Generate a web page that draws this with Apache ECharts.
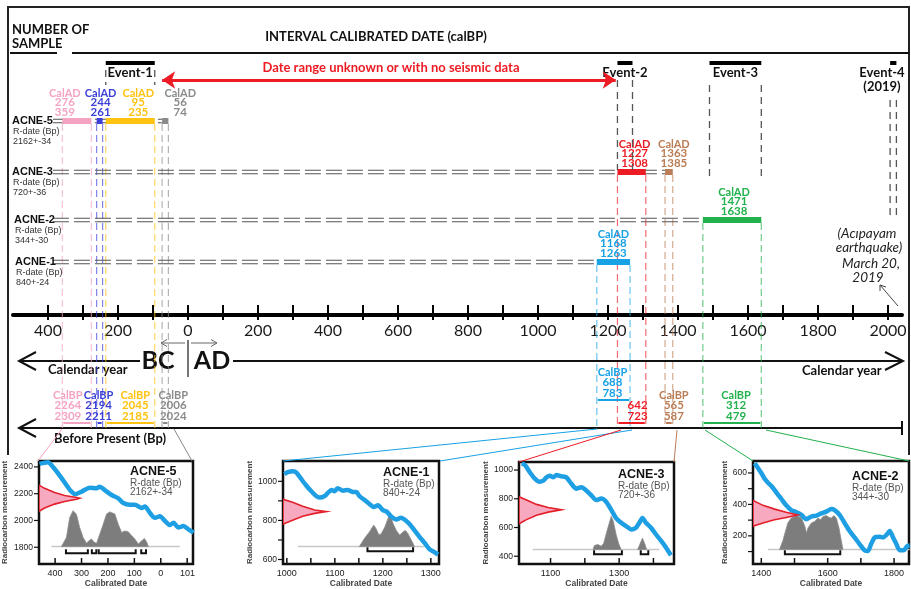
<!DOCTYPE html>
<html>
<head>
<meta charset="utf-8">
<script src="https://cdn.jsdelivr.net/npm/echarts@6/dist/echarts.min.js"></script>
<style>
  html, body { margin: 0; padding: 0; background: #fff; }
  #chart { width: 911px; height: 589px; }
</style>
</head>
<body>
<div id="chart"></div>
<script>
// ---- samples (rows of the timeline) ----
const sampleNames = ['ACNE-5', 'ACNE-3', 'ACNE-2', 'ACNE-1'];
const sampleRDates = ['2162+-34', '720+-36', '344+-30', '840+-24'];

// ---- calibrated ranges, calendar years (negative = BC) ----
const rangeSample = [0, 0, 0, 0, 1, 1, 2, 3];
const rangeFrom = [-359, -261, -235, -74, 1227, 1363, 1471, 1168];
const rangeTo = [-276, -244, -95, -56, 1308, 1385, 1638, 1263];
const calADLow = ['276', '244', '95', '56', '1227', '1363', '1471', '1168'];
const calADHigh = ['359', '261', '235', '74', '1308', '1385', '1638', '1263'];
const calBPLow = ['2264', '2194', '2045', '2006', '642', '565', '312', '688'];
const calBPHigh = ['2309', '2211', '2185', '2024', '723', '587', '479', '783'];
const calBPTitle = [1, 1, 1, 1, 0, 1, 1, 1];
const rangeColors = ['#f5a3c2', '#3b3fd6', '#ffc20e', '#8a8a8a', '#ed1c24', '#bb7d55', '#22b14c', '#17a2e6'];

// ---- events ----
const eventNames = ['Event-1', 'Event-2', 'Event-3', 'Event-4'];
const eventSub = ['', '', '', '(2019)'];
const eventFrom = [-235, 1227, 1490, 2006];
const eventTo = [-95, 1270, 1638, 2024];

// ---- main axis ----
const tickYears = [-400, -300, -200, -100, 0, 100, 200, 300, 400, 500, 600, 700, 800, 900, 1000, 1100, 1200, 1300, 1400, 1500, 1600, 1700, 1800, 1900, 2000];
const labelYears = [-400, -200, 0, 200, 400, 600, 800, 1000, 1200, 1400, 1600, 1800, 2000];

// ---- insets: calibration curves (year, radiocarbon age) ----
const acne5Curve = [[-459,2423],[-427,2435],[-408,2399],[-383,2337],[-357,2264],[-338,2215],[-323,2196],[-300,2215],[-269,2245],[-243,2240],[-231,2252],[-212,2227],[-186,2190],[-161,2166],[-142,2130],[-117,2117],[-98,2117],[-72,2093],[-60,2105],[-41,2056],[-22,2020],[-3,2032],[16,1996],[35,1966],[48,1983],[67,1947],[86,1959],[105,1934],[124,1910]];
const acne1Curve = [[995,1036],[1002,1047],[1013,1052],[1020,1045],[1030,1012],[1040,980],[1051,949],[1061,925],[1068,917],[1079,925],[1085,940],[1093,956],[1099,949],[1106,965],[1117,952],[1127,956],[1138,945],[1145,945],[1151,925],[1162,904],[1172,884],[1181,869],[1190,877],[1200,853],[1208,845],[1217,821],[1228,805],[1238,813],[1247,801],[1256,781],[1266,749],[1276,717],[1287,685],[1297,653],[1308,637],[1315,625]];
const acne3Curve = [[1016,1046],[1026,1033],[1040,983],[1055,938],[1067,919],[1079,926],[1088,949],[1098,960],[1108,949],[1117,965],[1132,956],[1146,949],[1161,904],[1175,870],[1190,881],[1204,858],[1219,824],[1233,791],[1248,802],[1262,780],[1277,723],[1291,666],[1306,633],[1320,610],[1335,587],[1349,599],[1359,633],[1368,666],[1378,633],[1393,599],[1407,553],[1422,508],[1436,463],[1451,407]];
const acne2Curve = [[1380,662],[1390,631],[1400,600],[1410,563],[1420,538],[1430,518],[1445,477],[1460,436],[1475,394],[1490,364],[1506,350],[1521,333],[1536,306],[1551,323],[1566,329],[1581,343],[1596,354],[1611,370],[1621,364],[1636,333],[1651,282],[1666,231],[1681,190],[1696,148],[1711,108],[1721,103],[1731,148],[1742,190],[1757,194],[1767,190],[1777,206],[1787,231],[1797,190],[1807,148],[1817,108],[1829,108],[1839,134],[1847,138]];

// measured radiocarbon age distributions (year-extent, age)
const acne5Bell = [[-461,2264],[-440,2240],[-402,2208],[-364,2186],[-319,2171],[-307,2166],[-319,2159],[-364,2142],[-402,2122],[-440,2093],[-461,2069]];
const acne1Bell = [[992,908],[1012,893],[1033,872],[1058,853],[1082,845],[1058,836],[1033,821],[1012,801],[992,781]];
const acne3Bell = [[1008,814],[1030,791],[1059,761],[1093,739],[1132,723],[1093,707],[1059,685],[1030,655],[1008,626]];
const acne2Bell = [[1375,425],[1405,394],[1440,370],[1475,350],[1510,333],[1475,317],[1440,302],[1405,282],[1375,262]];

// calibrated probability distributions
const acne5Density = [[[-376,1805],[-357,1873],[-345,2020],[-332,2073],[-319,2044],[-307,1947],[-294,1873],[-281,1829],[-272,1849],[-262,1861],[-252,1837],[-243,1829],[-231,1897],[-218,1971],[-205,2049],[-193,2064],[-174,2049],[-161,1971],[-148,1910],[-136,1922],[-123,1915],[-110,1886],[-98,1861],[-85,1824],[-72,1849],[-62,1866],[-53,1837],[-47,1805]]];
const acne1Density = [[[1151,666],[1162,709],[1172,741],[1181,776],[1186,757],[1192,725],[1197,733],[1204,765],[1210,805],[1215,837],[1221,786],[1228,749],[1235,725],[1242,741],[1247,749],[1252,733],[1259,701],[1266,666]]];
const acne3Density = [[[1224,447],[1228,475],[1238,481],[1248,470],[1255,490],[1262,553],[1270,621],[1277,678],[1283,644],[1291,553],[1299,485],[1306,447]],
  [[1354,447],[1359,475],[1368,526],[1375,485],[1380,447]]];
const acne2Density = [[[1455,114],[1465,169],[1473,231],[1480,282],[1490,313],[1506,329],[1521,313],[1531,262],[1536,220],[1541,251],[1551,282],[1561,292],[1571,313],[1578,302],[1586,323],[1596,329],[1604,317],[1611,313],[1619,329],[1626,313],[1634,251],[1641,169],[1646,114]]];

const insetSample = [0, 3, 1, 2];
const insetCurves = [acne5Curve, acne1Curve, acne3Curve, acne2Curve];
const insetBells = [acne5Bell, acne1Bell, acne3Bell, acne2Bell];
const insetDensity = [acne5Density, acne1Density, acne3Density, acne2Density];
const insetBaseFrom = [-414, 1023, 1048, 1420];
const insetBaseTo = [72, 1287, 1417, 1847];
const insetBaseAge = [1805, 666, 447, 114];
const insetBracketAge = [1756, 642, 414, 83];
const insetXMin = [-461, 992, 1008, 1375];
const insetXMax = [122, 1317, 1460, 1845];
const insetYMin = [1675, 577, 346, 21];
const insetYMax = [2444, 1104, 1056, 676];
const insetXLabels = [[-400, -300, -200, -100, 0, 101], [1000, 1100, 1200, 1300], [1100, 1300], [1400, 1600, 1800]];
const insetXTicks = [[-400, -300, -200, -100, 0, 100], [1000, 1050, 1100, 1150, 1200, 1250, 1300], [1100, 1200, 1300, 1400], [1400, 1500, 1600, 1700, 1800]];
const insetYLabels = [[1800, 2000, 2200, 2400], [600, 800, 1000], [400, 600, 800, 1000], [200, 400, 600]];
const insetYTicks = [[1800, 2000, 2200, 2400], [600, 700, 800, 900, 1000], [400, 600, 800, 1000], [100, 200, 300, 400, 500, 600]];

// ---- layout (pixels / layout levels above the main axis) ----
const rowLevel = [194, 143, 95, 53];
const rowLabelX = [12, 12, 14, 15];
const rowLineFrom = -386;
const bpAxisLevel = -113;
const bpBarLevel = [-108, -108, -108, -108, -108, -108, -108, -85];
const calADShift = [-12, 1, 8, 15, 3, 5, 2, 0];
const calBPShift = [-9, -1, 5, 8, 6, 5, 4, -1];
const eventLevel = 252;
const eventDashTop = [245, 235, 230, 215];
const eventDashBottom = [230, 145, 138, 95];
const insetBoxes = [[38, 461, 155, 107], [283, 461, 156, 110], [519, 462, 155, 105], [753, 461, 156, 106]];
const insetNameGap = [30, 24, 24, 21];
const insetTitlePos = [[130, 472], [383, 473], [618, 475], [852, 477]];

const FONT = 'Lato';

function tx(x, y, text, font, fill, align) {
  return { type: 'text', x: x, y: y, silent: true,
    style: { text: text, font: font, fill: fill, align: align || 'left', textAlign: align || 'left',
      verticalAlign: 'middle', textVerticalAlign: 'middle' } };
}
function ln(x1, y1, x2, y2, stroke, w, dash) {
  return { type: 'line', silent: true, shape: { x1: x1, y1: y1, x2: x2, y2: y2 },
    style: { stroke: stroke, lineWidth: w, lineDash: dash || null } };
}
function pl(points, stroke, w) {
  return { type: 'polyline', silent: true, shape: { points: points }, style: { stroke: stroke, lineWidth: w, fill: null } };
}
function box(x, y, w, h, fill) {
  return { type: 'rect', silent: true, shape: { x: x, y: y, width: w, height: h }, style: { fill: fill } };
}

const series = [];

// row double dashed lines + row labels
series.push({
  type: 'custom', xAxisIndex: 0, yAxisIndex: 0, z: 2, silent: true, clip: false,
  data: sampleNames.map(function (n, i) {
    let end = rowLineFrom;
    rangeFrom.forEach(function (f, k) { if (rangeSample[k] === i) end = Math.max(end, f); });
    return [rowLineFrom, end, rowLevel[i], i];
  }),
  renderItem: function (params, api) {
    const i = api.value(3);
    const a = api.coord([api.value(0), api.value(2)]);
    const b = api.coord([api.value(1), api.value(2)]);
    return { type: 'group', children: [
      ln(a[0], a[1] - 1.8, b[0], b[1] - 1.8, '#555', 1.1, [16, 5]),
      ln(a[0], a[1] + 1.8, b[0], b[1] + 1.8, '#555', 1.1, [16, 5]),
      tx(rowLabelX[i], a[1], sampleNames[i], 'bold 11px "Liberation Sans"', '#111'),
      tx(rowLabelX[i] + 1, a[1] + 11, 'R-date (Bp)', '9px "Liberation Sans"', '#333'),
      tx(rowLabelX[i] + 1, a[1] + 21, sampleRDates[i], '9px "Liberation Sans"', '#333')
    ] };
  }
});

// coloured dashed drop lines from each range to the BP axis
series.push({
  type: 'custom', xAxisIndex: 0, yAxisIndex: 0, z: 1, silent: true, clip: false,
  data: rangeFrom.map(function (f, k) { return [f, rangeTo[k], rowLevel[rangeSample[k]], k]; }),
  renderItem: function (params, api) {
    const k = api.value(3);
    const a = api.coord([api.value(0), api.value(2)]);
    const b = api.coord([api.value(1), api.value(2)]);
    const bottom = api.coord([0, bpAxisLevel])[1];
    const st = { stroke: rangeColors[k], lineWidth: 1.2, lineDash: [7, 4], opacity: 0.65 };
    return { type: 'group', children: [
      { type: 'line', shape: { x1: a[0], y1: a[1] + 3, x2: a[0], y2: bottom }, style: st },
      { type: 'line', shape: { x1: b[0], y1: b[1] + 3, x2: b[0], y2: bottom }, style: st }
    ] };
  }
});

// calibrated ranges (CalAD) bars and labels
series.push({
  type: 'custom', xAxisIndex: 0, yAxisIndex: 0, z: 3, silent: true, clip: false,
  data: rangeFrom.map(function (f, k) { return [f, rangeTo[k], rowLevel[rangeSample[k]], k]; }),
  renderItem: function (params, api) {
    const k = api.value(3);
    const a = api.coord([api.value(0), api.value(2)]);
    const b = api.coord([api.value(1), api.value(2)]);
    const cx = (a[0] + b[0]) / 2 + calADShift[k];
    const c = rangeColors[k];
    return { type: 'group', children: [
      box(a[0], a[1] - 3, b[0] - a[0], 6, c),
      tx(cx, a[1] - 28, 'CalAD', 'bold 11px ' + FONT, c, 'center'),
      tx(cx, a[1] - 18.5, calADLow[k], 'bold 11.5px ' + FONT, c, 'center'),
      tx(cx, a[1] - 9, calADHigh[k], 'bold 11.5px ' + FONT, c, 'center')
    ] };
  }
});

// CalBP labels and bars above the BP axis
series.push({
  type: 'custom', xAxisIndex: 0, yAxisIndex: 0, z: 3, silent: true, clip: false,
  data: rangeFrom.map(function (f, k) { return [f, rangeTo[k], bpBarLevel[k], k]; }),
  renderItem: function (params, api) {
    const k = api.value(3);
    const a = api.coord([api.value(0), api.value(2)]);
    const b = api.coord([api.value(1), api.value(2)]);
    const cx = (a[0] + b[0]) / 2 + calBPShift[k];
    const c = rangeColors[k];
    const kids = [ln(a[0] + 1, a[1], b[0] - 1, b[1], c, 2)];
    kids.push(tx(cx, a[1] - 7, calBPHigh[k], 'bold 11.5px ' + FONT, c, 'center'));
    kids.push(tx(cx, a[1] - 17.5, calBPLow[k], 'bold 11.5px ' + FONT, c, 'center'));
    if (calBPTitle[k]) kids.push(tx(cx, a[1] - 28, 'CalBP', 'bold 11px ' + FONT, c, 'center'));
    return { type: 'group', children: kids };
  }
});

// events
series.push({
  type: 'custom', xAxisIndex: 0, yAxisIndex: 0, z: 3, silent: true, clip: false,
  data: eventNames.map(function (n, i) { return [eventFrom[i], eventTo[i], eventLevel, i]; }),
  renderItem: function (params, api) {
    const i = api.value(3);
    const a = api.coord([api.value(0), api.value(2)]);
    const b = api.coord([api.value(1), api.value(2)]);
    const top = api.coord([0, eventDashTop[i]])[1];
    const bot = api.coord([0, eventDashBottom[i]])[1];
    const cx = Math.min((a[0] + b[0]) / 2, 882);
    const kids = [
      box(a[0], a[1] - 2, b[0] - a[0], 4, '#000'),
      ln(a[0], top, a[0], bot, '#555', 1.3, [7, 5]),
      ln(b[0], top, b[0], bot, '#555', 1.3, [7, 5]),
      tx(cx, a[1] + 10, eventNames[i], 'bold 13px ' + FONT, '#111', 'center')
    ];
    if (eventSub[i]) kids.push(tx(cx, a[1] + 24, eventSub[i], 'bold 13px ' + FONT, '#111', 'center'));
    return { type: 'group', children: kids };
  }
});

// main axis ticks crossing the axis line
series.push({
  type: 'custom', xAxisIndex: 0, yAxisIndex: 0, z: 8, silent: true, clip: false,
  data: tickYears.map(function (v) { return [v, 20]; }),
  renderItem: function (params, api) {
    const p = api.coord([api.value(0), 0]);
    return { type: 'group', children: [box(p[0] - 1, p[1] - 10, 2, 15, '#000')] };
  }
});

// red arrow over the unknown interval
series.push({
  type: 'lines', coordinateSystem: 'cartesian2d', xAxisIndex: 0, yAxisIndex: 0, z: 4, silent: true,
  symbol: ['arrow', 'arrow'], symbolSize: 13,
  lineStyle: { color: '#ed1c24', width: 3, opacity: 1 },
  data: [{ coords: [[-74, 235], [1222, 235]] }]
});

// main grid: its bottom edge is the calendar axis; negative levels extend below it
const grids = [{ left: 13, right: 9, top: 25, bottom: 274 }];
const xAxes = [{
  gridIndex: 0, type: 'value', min: -500, max: 2040,
  axisLine: { lineStyle: { color: '#000', width: 4 } },
  axisTick: { show: false },
  axisLabel: { customValues: labelYears, formatter: function (v) { return String(Math.abs(v)); },
    fontSize: 16, color: '#1a1a1a', fontFamily: FONT, margin: 8 },
  splitLine: { show: false }
}];
const yAxes = [{ gridIndex: 0, type: 'value', min: 0, max: 290, show: false }];

function polySeries(gi, pts, fill, stroke, lw, z) {
  return {
    type: 'custom', xAxisIndex: gi, yAxisIndex: gi, z: z, silent: true, clip: true,
    data: [pts[0]],
    renderItem: function (params, api) {
      return { type: 'polygon', shape: { points: pts.map(function (p) { return api.coord(p); }) },
        style: { fill: fill, stroke: stroke, lineWidth: lw } };
    }
  };
}

insetBoxes.forEach(function (bx, n) {
  const gi = n + 1;
  const s = insetSample[n];
  grids.push({ left: bx[0], top: bx[1], width: bx[2], height: bx[3], show: true,
    borderColor: '#111', borderWidth: 2.5, backgroundColor: '#fff' });
  xAxes.push({
    gridIndex: gi, type: 'value', min: insetXMin[n], max: insetXMax[n],
    name: 'Calibrated Date', nameLocation: 'middle', nameGap: 15,
    nameTextStyle: { fontSize: 8.5, fontWeight: 'bold', color: '#444', fontFamily: 'Liberation Sans' },
    axisLine: { show: false },
    axisTick: { show: false },
    axisLabel: { customValues: insetXLabels[n], formatter: function (v) { return String(Math.abs(v)); },
      fontSize: 9, color: '#222', margin: 5, fontFamily: 'Liberation Sans' },
    splitLine: { show: false }
  });
  yAxes.push({
    gridIndex: gi, type: 'value', min: insetYMin[n], max: insetYMax[n],
    name: 'Radiocarbon measurement', nameLocation: 'middle', nameGap: insetNameGap[n],
    nameTextStyle: { fontSize: 8, fontWeight: 'bold', color: '#444', fontFamily: 'Liberation Sans' },
    axisLine: { show: false },
    axisTick: { show: false },
    axisLabel: { customValues: insetYLabels[n], formatter: function (v) { return String(v); },
      fontSize: 8.5, color: '#222', margin: 6, fontFamily: 'Liberation Sans' },
    splitLine: { show: false }
  });

  // inset tick marks: x ticks point up from the bottom frame, y ticks point left of the frame
  const xMid = (insetXMin[n] + insetXMax[n]) / 2;
  const yMid = (insetYMin[n] + insetYMax[n]) / 2;
  series.push({
    type: 'custom', xAxisIndex: gi, yAxisIndex: gi, z: 8, silent: true, clip: false,
    data: insetXTicks[n].map(function (v) { return [v, yMid, 0]; })
      .concat(insetYTicks[n].map(function (v) { return [xMid, v, 1]; })),
    renderItem: function (params, api) {
      if (api.value(2) === 0) {
        const p = api.coord([api.value(0), insetYMin[n]]);
        return { type: 'group', children: [box(p[0] - 0.75, p[1] - 6, 1.5, 5, '#111')] };
      }
      const q = api.coord([insetXMin[n], api.value(1)]);
      return { type: 'group', children: [box(q[0] - 5, q[1] - 0.6, 4, 1.2, '#111')] };
    }
  });
  series.push({
    type: 'line', xAxisIndex: gi, yAxisIndex: gi, z: 2, silent: true, symbol: 'none',
    lineStyle: { color: '#c8c8c8', width: 1.5 },
    data: [[insetBaseFrom[n], insetBaseAge[n]], [insetBaseTo[n], insetBaseAge[n]]]
  });
  insetDensity[n].forEach(function (cluster) {
    series.push(polySeries(gi, cluster, '#7d7d7d', '#8c8c8c', 0.8, 3));
  });
  series.push({
    type: 'line', xAxisIndex: gi, yAxisIndex: gi, z: 4, silent: true, symbol: 'none', smooth: 0.25,
    clip: true, lineStyle: { color: '#1e9fe3', width: 4.5 },
    data: insetCurves[n]
  });
  series.push(polySeries(gi, insetBells[n], '#f7a9bf', '#e3202a', 1.6, 5));
  series.push({
    type: 'custom', xAxisIndex: gi, yAxisIndex: gi, z: 5, silent: true, clip: false,
    data: rangeFrom.map(function (f, k) { return [f, rangeTo[k], insetBracketAge[n], k]; })
      .filter(function (d) { return rangeSample[d[3]] === s; }),
    renderItem: function (params, api) {
      const a = api.coord([api.value(0), api.value(2)]);
      const b = api.coord([api.value(1), api.value(2)]);
      return { type: 'group', children: [
        pl([[a[0], a[1] - 4], [a[0], a[1]], [b[0], b[1]], [b[0], b[1] - 4]], '#111', 2)
      ] };
    }
  });
});

// decorations
const gfx = [];
gfx.push(pl([[8, 455], [8, 7], [909, 7], [909, 455]], '#222', 2));
gfx.push(tx(12, 30, 'NUMBER OF', 'bold 13px ' + FONT, '#111'));
gfx.push(tx(12, 44, 'SAMPLE', 'bold 13px ' + FONT, '#111'));
gfx.push(ln(10, 53, 57, 53, '#111', 2));
gfx.push(ln(72, 53, 909, 53, '#111', 2));
gfx.push(tx(376, 37, 'INTERVAL CALIBRATED DATE (calBP)', 'bold 13px ' + FONT, '#111', 'center'));
gfx.push(tx(391, 68, 'Date range unknown or with no seismic data', 'bold 13px ' + FONT, '#ed1c24', 'center'));

// calendar year arrows
gfx.push(ln(19, 361, 140, 361, '#111', 2));
gfx.push(pl([[36, 352], [19, 361], [36, 370]], '#111', 2));
gfx.push(ln(233, 361, 902, 361, '#111', 2));
gfx.push(pl([[885, 352], [903, 361], [885, 370]], '#111', 2));
gfx.push(tx(158, 361, 'BC', 'bold 25px ' + FONT, '#111', 'center'));
gfx.push(tx(212, 361, 'AD', 'bold 25px ' + FONT, '#111', 'center'));
gfx.push(ln(188, 340, 188, 377, '#777', 2));
gfx.push(ln(161, 343, 185, 343, '#666', 1));
gfx.push(pl([[167, 339.5], [161, 343], [167, 346.5]], '#666', 1));
gfx.push(ln(191, 343, 217, 343, '#666', 1));
gfx.push(pl([[211, 339.5], [217, 343], [211, 346.5]], '#666', 1));
gfx.push(tx(48, 370, 'Calendar year', 'bold 13px ' + FONT, '#111'));
gfx.push(tx(802, 371, 'Calendar year', 'bold 13px ' + FONT, '#111'));

// BP axis
gfx.push(ln(19, 428, 902, 428, '#111', 2));
gfx.push(pl([[36, 419], [19, 428], [36, 437]], '#111', 2));
gfx.push(ln(902, 421, 902, 435, '#111', 2));
gfx.push(tx(54, 439, 'Before Present (Bp)', 'bold 13px ' + FONT, '#111'));

// Acipayam note
gfx.push(tx(867, 234, '(Acıpayam', 'italic 13.5px ' + FONT, '#222', 'center'));
gfx.push(tx(869, 248, 'earthquake)', 'italic 13.5px ' + FONT, '#222', 'center'));
gfx.push(tx(871, 264, 'March 20,', 'italic 13.5px ' + FONT, '#222', 'center'));
gfx.push(tx(868, 278, '2019', 'italic 13.5px ' + FONT, '#222', 'center'));
gfx.push(ln(880, 285, 898, 306, '#444', 1));
gfx.push(pl([[880, 291], [880, 285], [886, 287]], '#444', 1));

// connectors from BP ranges to insets
gfx.push(ln(62, 429, 38, 461, '#f5a3c2', 1));
gfx.push(ln(174, 429, 192, 461, '#888', 1));
gfx.push(ln(597, 429, 283, 461, '#17a2e6', 1));
gfx.push(ln(632, 430, 440, 461, '#17a2e6', 1));
gfx.push(ln(621, 430, 519, 462, '#ed1c24', 1));
gfx.push(ln(677, 430, 674, 462, '#bb7d55', 1));
gfx.push(ln(705, 430, 753, 461, '#22b14c', 1));
gfx.push(ln(766, 430, 909, 461, '#22b14c', 1));

// inset titles
insetTitlePos.forEach(function (p, n) {
  const s = insetSample[n];
  gfx.push(tx(p[0], p[1], sampleNames[s], 'bold 12.5px "Liberation Sans"', '#111'));
  gfx.push(tx(p[0], p[1] + 11, 'R-date (Bp)', '10px "Liberation Sans"', '#555'));
  gfx.push(tx(p[0], p[1] + 20.5, sampleRDates[s], '10px "Liberation Sans"', '#555'));
});

const chart = echarts.init(document.getElementById('chart'));
chart.setOption({
  animation: false,
  backgroundColor: '#fff',
  textStyle: { fontFamily: FONT },
  grid: grids,
  xAxis: xAxes,
  yAxis: yAxes,
  series: series,
  graphic: { elements: gfx }
});
</script>
</body>
</html>
